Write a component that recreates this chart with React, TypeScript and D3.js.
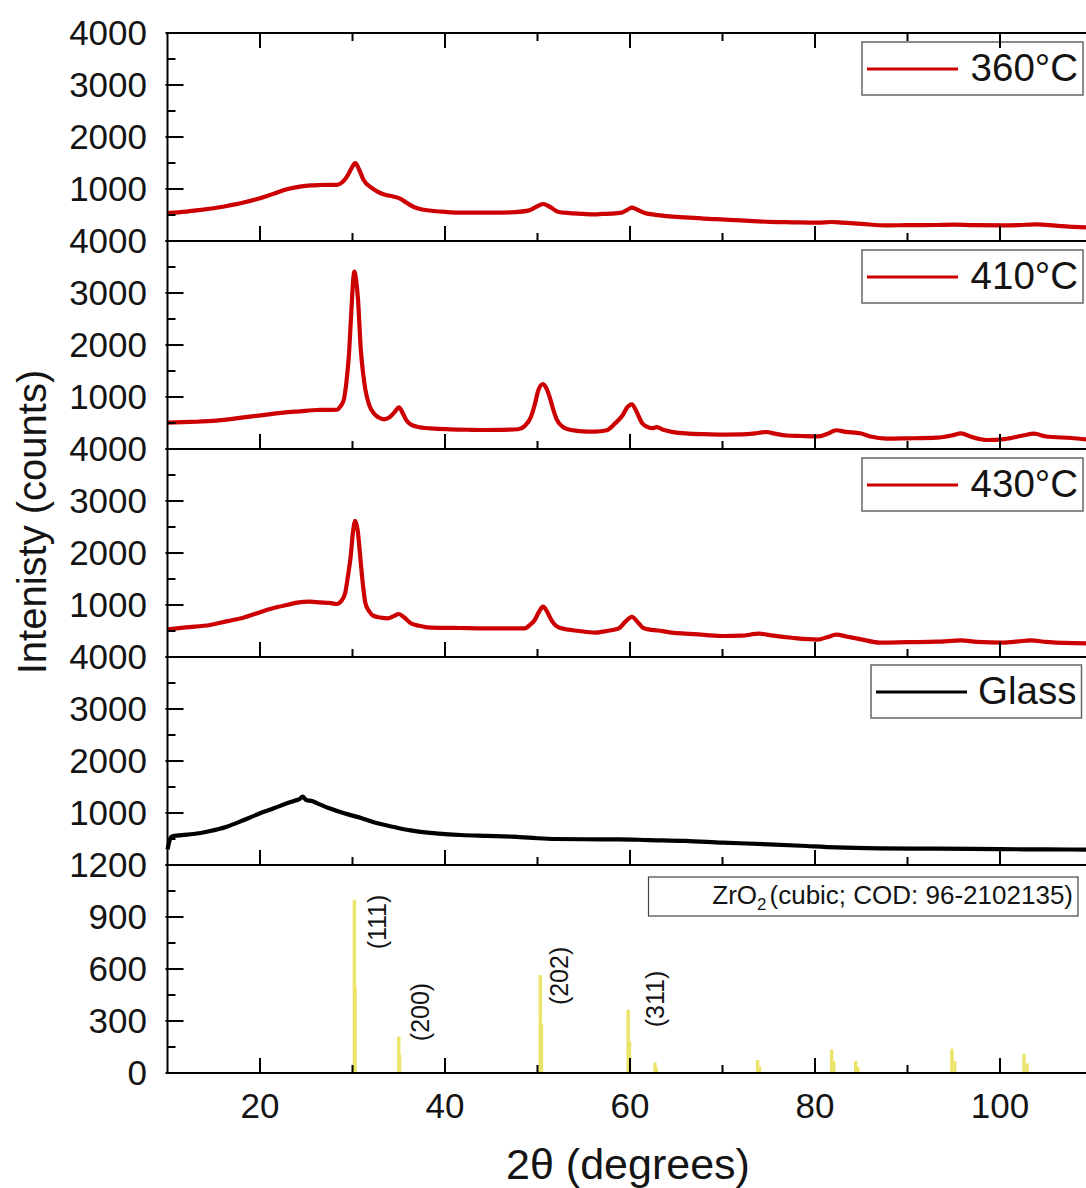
import React from "react";
import * as d3 from "d3";

// XRD patterns: [2θ (deg), intensity (counts)]
const series360: [number, number][] = [
  [10, 535], [12, 565], [13.5, 596], [15, 630], [16.4, 673], [18, 730], [19.6, 801], [21, 880], [21.8, 930],
  [23, 1000], [24.3, 1045], [25.5, 1070], [26.5, 1077], [27.5, 1080], [28.3, 1080], [28.9, 1130], [29.4, 1237],
  [29.9, 1400], [30.3, 1500], [30.7, 1380], [31.2, 1173], [32, 1030], [32.7, 948], [33.5, 890], [34.5, 852],
  [35.2, 810], [35.8, 740], [36.7, 648], [37.7, 600], [38.8, 577], [40, 560], [41.7, 545], [43.5, 545],
  [45.3, 545], [47, 550], [49, 583], [49.8, 650], [50.6, 712], [51.4, 650], [52.2, 564], [53.5, 535],
  [55, 520], [56.2, 513], [57, 520], [58, 525], [59.1, 545], [59.7, 600], [60.2, 640], [60.8, 600],
  [61.6, 540], [62.4, 512], [64, 480], [66, 454], [68, 430], [70.2, 412], [72.5, 390], [75.1, 369],
  [77.5, 360], [80.3, 352], [81.8, 365], [83, 352], [85, 330], [87.7, 300], [90, 305], [93.2, 308],
  [95, 315], [97, 305], [100.4, 300], [102, 305], [104, 320], [106, 295], [108, 270], [110, 258],
];

const series410: [number, number][] = [
  [10, 506], [12.5, 520], [15.3, 545], [17, 580], [18.9, 622], [20.7, 660], [22.5, 699], [24.3, 725],
  [26.2, 750], [27.5, 752], [28.3, 755], [28.7, 820], [29.05, 942], [29.35, 1300], [29.6, 1775], [29.8, 2400],
  [29.96, 2929], [30.1, 3300], [30.2, 3410], [30.35, 3300], [30.6, 2865], [30.9, 1904], [31.15, 1450],
  [31.4, 1135], [31.8, 850], [32.3, 686], [32.8, 610], [33.4, 571], [34, 610], [34.5, 699], [35.03, 801],
  [35.4, 700], [35.8, 558], [36.3, 470], [37, 429], [38.5, 395], [40.6, 378], [42.5, 370], [44.3, 365],
  [46, 368], [47.9, 380], [48.6, 440], [49.3, 622], [49.7, 850], [50.1, 1135], [50.6, 1250], [51, 1150],
  [51.3, 1006], [51.7, 760], [52.1, 558], [52.7, 430], [53.3, 378], [54.5, 345], [56.2, 333], [57.5, 360],
  [58.4, 494], [59.2, 650], [59.7, 800], [60.2, 860], [60.7, 720], [61.3, 500], [61.8, 430], [62.4, 400],
  [62.9, 420], [63.6, 370], [64.5, 330], [66, 302], [68, 285], [70.2, 277], [72, 280], [73.5, 300],
  [74.7, 327], [75.8, 290], [76.9, 260], [78.5, 250], [80.3, 242], [81.3, 290], [82.3, 361], [83.3, 330],
  [84.9, 302], [86, 240], [87.7, 200], [90, 205], [93.2, 217], [94.8, 260], [95.8, 302], [96.8, 240],
  [98.6, 173], [100.5, 190], [102.5, 260], [103.7, 294], [105, 240], [107.7, 211], [110, 173],
];

const series430: [number, number][] = [
  [10, 532], [12, 570], [14.6, 615], [16.5, 690], [18.2, 756], [19.5, 830], [20.7, 904], [22, 965],
  [22.9, 1000], [24, 1045], [25.4, 1064], [26.5, 1050], [27.5, 1040], [28.3, 1019], [28.8, 1080],
  [29.2, 1225], [29.5, 1550], [29.8, 1929], [30.05, 2400], [30.3, 2620], [30.55, 2450], [30.9, 1802],
  [31.15, 1350], [31.4, 1032], [31.8, 880], [32.3, 788], [33, 760], [33.8, 744], [34.5, 790], [35, 827],
  [35.6, 760], [36.3, 648], [37.2, 600], [38.1, 571], [40, 560], [41.7, 558], [43.5, 552], [45.4, 551],
  [47, 549], [48.6, 551], [49.2, 620], [49.7, 712], [50.2, 880], [50.6, 967], [51.1, 850], [51.5, 712],
  [52, 600], [52.6, 551], [54.5, 500], [56.2, 468], [57.5, 500], [58.8, 551], [59.5, 680], [60.2, 770],
  [60.8, 680], [61.4, 560], [62, 532], [63, 510], [64.5, 470], [66, 448], [68, 425], [70.2, 404],
  [72, 410], [74, 448], [75.5, 410], [77.5, 370], [80.3, 336], [81.3, 380], [82.3, 429], [83.5, 390],
  [85, 340], [87, 277], [90, 285], [93.2, 294], [95.8, 319], [97.5, 290], [100.4, 277], [102, 300],
  [103.3, 319], [105, 290], [107, 270], [110, 262],
];

const seriesGlass: [number, number][] = [
  [10, 300], [10.15, 420], [10.4, 545], [11.5, 575], [12.8, 596], [14.5, 650], [16.4, 737], [18.2, 860],
  [20, 994], [21.5, 1090], [22.9, 1186], [23.8, 1240], [24.3, 1270], [24.6, 1314], [25, 1250], [25.6, 1230],
  [26.2, 1186], [27.5, 1090], [29.1, 994], [31, 900], [32.7, 802], [34.5, 730], [36.3, 665], [38.1, 622],
  [40, 595], [41.7, 577], [44.5, 560], [47.2, 545], [49.5, 520], [51.9, 500], [55, 495], [58.8, 494],
  [62, 480], [66, 465], [70, 430], [75, 398], [78.5, 370], [82.3, 338], [87, 320], [93.2, 313],
  [100, 305], [105, 300], [110, 296],
];

// Reference pattern, cubic ZrO2 (COD 96-2102135): Kα1 and Kα2 lines
const refKa1: [number, number][] = [
  [30.2, 1000], [35.0, 210], [50.3, 565], [59.8, 365], [62.7, 60], [73.8, 75], [81.8, 135], [84.4, 70],
  [94.8, 140], [102.6, 110],
];
const refKa2: [number, number][] = [
  [30.3, 500], [35.12, 105], [50.45, 283], [59.97, 183], [62.88, 30], [74.02, 38], [82.05, 68], [84.66, 35],
  [95.12, 70], [102.95, 55],
];
// Miller index labels: [2θ, counts at label centre, text]
const hklLabels: [number, number, string][] = [
  [32.65, 871, "(111)"],
  [37.3, 352, "(200)"],
  [52.4, 560, "(202)"],
  [62.7, 427, "(311)"],
];

const legendNames = ["360°C", "410°C", "430°C", "Glass"];
const countTicks = [1000, 2000, 3000, 4000];
const countMinor = [500, 1500, 2500, 3500];
const refTicks = [0, 300, 600, 900, 1200];
const refMinor = [150, 450, 750, 1050];
const xMajor = [20, 40, 60, 80, 100];
const xMinor = [30, 50, 70, 90];

const W = 1086;
const H = 1188;
const LEFT = 167.5;
const TOP = 33;
const PANEL_H = 208;
const FONT = "'Liberation Sans', Arial, Helvetica, sans-serif";
const RED = "#cc0000";
const BAR = "#ece46a";
const TXT = "#141414";

export default function App() {
  const x = d3.scaleLinear().domain([10, 110]).range([LEFT, LEFT + 925]);
  const panels = [series360, series410, series430, seriesGlass];
  const colors = [RED, RED, RED, "#000"];

  const yCount = (i: number) =>
    d3.scaleLinear().domain([0, 4000]).range([TOP + (i + 1) * PANEL_H, TOP + i * PANEL_H]);
  const bottomTop = TOP + 4 * PANEL_H;
  const bottomY = bottomTop + PANEL_H;
  const yRef = d3.scaleLinear().domain([0, 1200]).range([bottomY, bottomTop]);

  const xTickMarks = (yBase: number, dir: number, key: string) => (
    <g key={key}>
      {xMajor.map((t) => (
        <line key={"M" + t} x1={x(t)} x2={x(t)} y1={yBase} y2={yBase + dir * 15} stroke="#000" strokeWidth={2} />
      ))}
      {xMinor.map((t) => (
        <line key={"m" + t} x1={x(t)} x2={x(t)} y1={yBase} y2={yBase + dir * 8} stroke="#000" strokeWidth={2} />
      ))}
    </g>
  );

  return (
    <svg
      width={W}
      height={H}
      style={{ position: "absolute", left: 0, top: 0, background: "#fff" }}
      fontFamily={FONT}
    >
      <rect x={0} y={0} width={W} height={H} fill="#fff" />

      {/* intensity panels */}
      {panels.map((data, i) => {
        const y = yCount(i);
        const line = d3
          .line<[number, number]>()
          .x((d) => x(d[0]))
          .y((d) => y(d[1]))
          .curve(d3.curveMonotoneX);
        const isGlass = i === 3;
        const lx = isGlass ? 871 : 862;
        const lw = isGlass ? 210.5 : 221;
        const ly = y(4000) + (isGlass ? 8 : 9);
        return (
          <g key={"p" + i}>
            <path d={line(data) || ""} fill="none" stroke={colors[i]} strokeWidth={4.2} strokeLinejoin="round" />
            {countMinor.map((t) => (
              <line key={"ym" + t} x1={LEFT} x2={LEFT + 8} y1={y(t)} y2={y(t)} stroke="#000" strokeWidth={2} />
            ))}
            {[0, ...countTicks].map((t) => (
              <line key={"yM" + t} x1={LEFT - 2} x2={LEFT + 16} y1={y(t)} y2={y(t)} stroke="#000" strokeWidth={2} />
            ))}
            {countTicks.map((t) => (
              <text key={"yl" + t} x={147} y={y(t)} dy="0.34em" textAnchor="end" fontSize={35} fill={TXT}>
                {t}
              </text>
            ))}
            {xTickMarks(y(0), -1, "xt" + i)}
            <line x1={LEFT} x2={W} y1={y(0)} y2={y(0)} stroke="#000" strokeWidth={2} />
            {/* legend */}
            <rect x={lx} y={ly} width={lw} height={53} fill="#fff" stroke="#666" strokeWidth={1.5} />
            <line x1={lx + 5} x2={lx + 96} y1={ly + 27} y2={ly + 27} stroke={colors[i]} strokeWidth={3} />
            <text x={lx + lw - 5} y={ly + 39} textAnchor="end" fontSize={38.5} fill={TXT}>
              {legendNames[i]}
            </text>
          </g>
        );
      })}

      {/* reference pattern panel */}
      <g>
        {refKa2.map((d, k) => (
          <rect
            key={"k2" + k}
            x={x(d[0]) - 1.5}
            y={yRef(d[1])}
            width={3}
            height={yRef(0) - yRef(d[1])}
            fill={BAR}
          />
        ))}
        {refKa1.map((d, k) => (
          <rect
            key={"k1" + k}
            x={x(d[0]) - 1.7}
            y={yRef(d[1])}
            width={3.4}
            height={yRef(0) - yRef(d[1])}
            fill={BAR}
          />
        ))}
        {hklLabels.map((d) => (
          <text
            key={d[2]}
            transform={`translate(${x(d[0])},${yRef(d[1])}) rotate(-90)`}
            textAnchor="middle"
            dy="0.35em"
            fontSize={25}
            fill={TXT}
          >
            {d[2]}
          </text>
        ))}
        {refMinor.map((t) => (
          <line key={"rm" + t} x1={LEFT} x2={LEFT + 8} y1={yRef(t)} y2={yRef(t)} stroke="#000" strokeWidth={2} />
        ))}
        {refTicks.map((t) => (
          <line key={"rM" + t} x1={LEFT - 2} x2={LEFT + 16} y1={yRef(t)} y2={yRef(t)} stroke="#000" strokeWidth={2} />
        ))}
        {refTicks.map((t) => (
          <text key={"rl" + t} x={147} y={yRef(t)} dy="0.34em" textAnchor="end" fontSize={35} fill={TXT}>
            {t}
          </text>
        ))}
        {xTickMarks(yRef(0), -1, "xtb")}
        <line x1={LEFT} x2={W} y1={yRef(0)} y2={yRef(0)} stroke="#000" strokeWidth={2} />
        <rect x={648.5} y={877} width={429.5} height={39} fill="#fff" stroke="#444" strokeWidth={1.2} />
        <text x={1073} y={904} textAnchor="end" fontSize={26} fill={TXT}>
          ZrO
          <tspan fontSize={17} dy={6}>
            2
          </tspan>
          <tspan dy={-6} dx={3}>
            (cubic; COD: 96-2102135)
          </tspan>
        </text>
      </g>

      {/* frame: top axis and left axis */}
      {xTickMarks(TOP, 1, "xtop")}
      <line x1={LEFT} x2={W} y1={TOP} y2={TOP} stroke="#000" strokeWidth={2} />
      <line x1={LEFT} x2={LEFT} y1={TOP - 1} y2={bottomY + 1} stroke="#000" strokeWidth={2} />

      {/* bottom tick labels */}
      {xMajor.map((t) => (
        <text key={"xl" + t} x={x(t)} y={1118} textAnchor="middle" fontSize={35} fill={TXT}>
          {t}
        </text>
      ))}

      {/* axis titles */}
      <text x={628} y={1179} textAnchor="middle" fontSize={43} fill={TXT}>
        2θ (degrees)
      </text>
      <text transform="translate(46,522) rotate(-90)" textAnchor="middle" fontSize={40} fill={TXT}>
        Intenisty (counts)
      </text>
    </svg>
  );
}
